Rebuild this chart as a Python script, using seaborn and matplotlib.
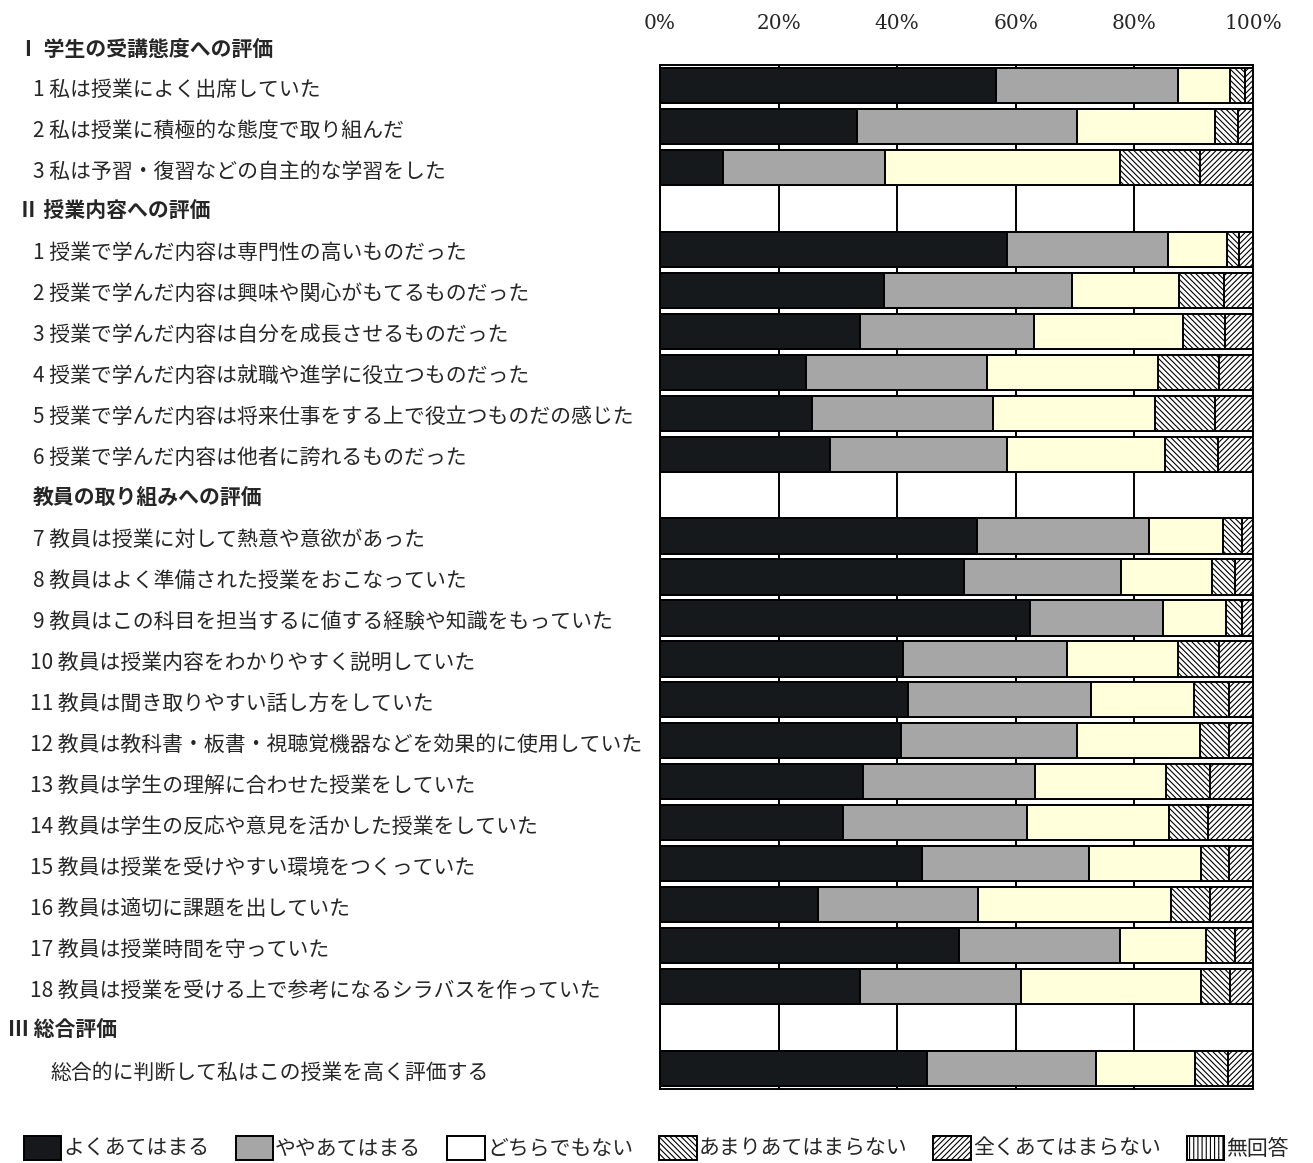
import numpy as np
import pandas as pd
import matplotlib
matplotlib.use("Agg")
import matplotlib.pyplot as plt
import seaborn as sns
from matplotlib.patches import Patch
from matplotlib.transforms import blended_transform_factory

# ---------------- data ----------------
section_title = "Ⅰ 学生の受講態度への評価"

row_labels = [
    "1 私は授業によく出席していた",
    "2 私は授業に積極的な態度で取り組んだ",
    "3 私は予習・復習などの自主的な学習をした",
    "Ⅱ 授業内容への評価",
    "1 授業で学んだ内容は専門性の高いものだった",
    "2 授業で学んだ内容は興味や関心がもてるものだった",
    "3 授業で学んだ内容は自分を成長させるものだった",
    "4 授業で学んだ内容は就職や進学に役立つものだった",
    "5 授業で学んだ内容は将来仕事をする上で役立つものだの感じた",
    "6 授業で学んだ内容は他者に誇れるものだった",
    "教員の取り組みへの評価",
    "7 教員は授業に対して熱意や意欲があった",
    "8 教員はよく準備された授業をおこなっていた",
    "9 教員はこの科目を担当するに値する経験や知識をもっていた",
    "10 教員は授業内容をわかりやすく説明していた",
    "11 教員は聞き取りやすい話し方をしていた",
    "12 教員は教科書・板書・視聴覚機器などを効果的に使用していた",
    "13 教員は学生の理解に合わせた授業をしていた",
    "14 教員は学生の反応や意見を活かした授業をしていた",
    "15 教員は授業を受けやすい環境をつくっていた",
    "16 教員は適切に課題を出していた",
    "17 教員は授業時間を守っていた",
    "18 教員は授業を受ける上で参考になるシラバスを作っていた",
    "Ⅲ 総合評価",
    "総合的に判断して私はこの授業を高く評価する",
]
header_rows = ["Ⅱ 授業内容への評価", "教員の取り組みへの評価", "Ⅲ 総合評価"]

categories = ["よくあてはまる", "ややあてはまる", "どちらでもない",
              "あまりあてはまらない", "全くあてはまらない", "無回答"]

# values per category (None = section header row)
yoku = [56.7, 33.2, 10.7, None, 58.5, 37.8, 33.7, 24.7, 25.7, 28.6, None,
        53.4, 51.3, 62.4, 41.0, 41.9, 40.6, 34.2, 30.8, 44.2, 26.7, 50.5, 33.8, None, 45.1]
yaya = [30.6, 37.1, 27.3, None, 27.1, 31.7, 29.3, 30.5, 30.5, 29.9, None,
        29.0, 26.4, 22.4, 27.7, 30.7, 29.7, 29.0, 31.1, 28.1, 26.9, 27.0, 27.1, None, 28.4]
dochira = [8.8, 23.3, 39.5, None, 10.0, 18.0, 25.2, 28.7, 27.3, 26.7, None,
           12.5, 15.4, 10.6, 18.7, 17.4, 20.7, 22.2, 23.9, 19.0, 32.6, 14.6, 30.4, None, 16.8]
amari = [2.6, 3.8, 13.5, None, 2.1, 7.6, 7.1, 10.4, 10.1, 8.9, None,
         3.3, 3.9, 2.8, 6.9, 5.9, 4.9, 7.4, 6.6, 4.6, 6.6, 4.8, 4.9, None, 5.5]
mattaku = [1.3, 2.6, 9.0, None, 2.3, 4.9, 4.7, 5.7, 6.4, 5.9, None,
           1.8, 3.0, 1.8, 5.7, 4.1, 4.1, 7.2, 7.6, 4.1, 7.2, 3.1, 3.8, None, 4.2]
mukaitou = [0.0, 0.0, 0.0, None, 0.0, 0.0, 0.0, 0.0, 0.0, 0.0, None,
            0.0, 0.0, 0.0, 0.0, 0.0, 0.0, 0.0, 0.0, 0.0, 0.0, 0.0, 0.0, None, 0.0]

xticks = [0, 20, 40, 60, 80, 100]
xtick_labels = ["0%", "20%", "40%", "60%", "80%", "100%"]

# ---------------- styles ----------------
face = ["#16191b", "#a6a6a6", "#ffffdc", "white", "white", "white"]
legend_face = ["#16191b", "#a6a6a6", "white", "white", "white", "white"]
hatches = [None, None, None, "\\" * 6, "/" * 6, "|" * 4]

# ---------------- frame ----------------
rows = []
for i, lab in enumerate(row_labels):
    if lab in header_rows:
        continue
    rows.append({"row": i, "c0": yoku[i], "c1": yaya[i], "c2": dochira[i],
                 "c3": amari[i], "c4": mattaku[i], "c5": mukaitou[i]})
df = pd.DataFrame(rows)
cols = ["c0", "c1", "c2", "c3", "c4", "c5"]
cum = df[cols].cumsum(axis=1)
for k, c in enumerate(cols):
    df["cum" + str(k)] = cum[c]

sns.set_style("white")
JP = ["Noto Sans CJK JP", "DejaVu Sans"]
plt.rcParams["font.family"] = JP
plt.rcParams["hatch.linewidth"] = 0.8
plt.rcParams["hatch.color"] = "black"

fig = plt.figure(figsize=(13.13, 11.63), dpi=100)
ax = fig.add_axes([660 / 1313, 1 - 1089 / 1163, 593 / 1313, (1089 - 65) / 1163])

for k in reversed(range(len(cols))):
    sns.barplot(data=df, x="cum" + str(k), y="row", orient="y", native_scale=True,
                color=face[k], saturation=1, errorbar=None, width=0.86,
                edgecolor="black", linewidth=1.4, hatch=hatches[k], ax=ax, zorder=3)

n = len(row_labels)
ax.set_ylim(n - 0.5, -0.5)
ax.set_xlim(0, 100)
ax.set_yticks([])
ax.set_xlabel("")
ax.set_ylabel("")
ax.xaxis.tick_top()
ax.set_xticks(xticks)
ax.set_xticklabels(xtick_labels, fontfamily="DejaVu Serif", fontsize=14.5)
ax.tick_params(axis="x", length=0, pad=23, top=True, bottom=False, labeltop=True, labelbottom=False)
ax.set_axisbelow(True)
ax.grid(axis="x", color="black", linewidth=1.4, zorder=0)
ax.grid(axis="y", visible=False)
for sp in ax.spines.values():
    sp.set_visible(True)
    sp.set_color("black")
    sp.set_linewidth(1.4)

# ---------------- row labels ----------------
tr = blended_transform_factory(fig.transFigure, ax.transData)
header_x = {"Ⅱ 授業内容への評価": 18, "教員の取り組みへの評価": 33, "Ⅲ 総合評価": 8}
ax.text(18 / 1313, -0.88, section_title, transform=tr, va="center", ha="left",
        fontsize=15, fontweight="bold", family=JP, clip_on=False)
for i, lab in enumerate(row_labels):
    if lab in header_rows:
        ax.text(header_x[lab] / 1313, i + 0.05, lab, transform=tr, va="center", ha="left",
                fontsize=15, fontweight="bold", family=JP, clip_on=False)
    else:
        if lab[0].isdigit():
            x0 = 30 if lab[1].isdigit() else 33
        else:
            x0 = 50
        ax.text(x0 / 1313, i + 0.1, lab, transform=tr, va="center", ha="left",
                fontsize=15, family=JP, clip_on=False)

# ---------------- legend ----------------
handles = [Patch(facecolor=legend_face[k], edgecolor="black", linewidth=1.4,
                 hatch=hatches[k]) for k in range(len(categories))]
fig.legend(handles, categories, loc="center", bbox_to_anchor=(0.5, 1 - 1148 / 1163),
           ncol=6, frameon=False, handlelength=1.8, handleheight=1.35,
           handletextpad=0.1, columnspacing=1.25, borderaxespad=0,
           prop={"family": JP, "size": 15})

fig.savefig("out.png", dpi=100)
